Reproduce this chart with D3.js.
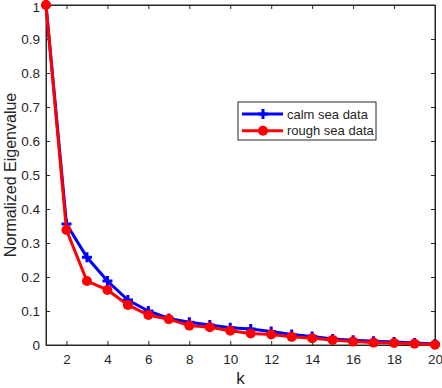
<!DOCTYPE html>
<html>
<head>
<meta charset="utf-8">
<script src="https://cdn.jsdelivr.net/npm/d3@7.9.0/dist/d3.min.js"></script>
<style>
  body { margin: 0; background: #fff; }
  svg text { font-family: "Liberation Sans", Arial, sans-serif; fill: #262626; }
</style>
</head>
<body>
<svg id="chart" width="442" height="388"></svg>
<script>
// data
const k = d3.range(1, 21);
const calmSea = [1, 0.356, 0.258, 0.188, 0.132, 0.1, 0.078, 0.067, 0.059, 0.051,
                 0.047, 0.04, 0.031, 0.025, 0.018, 0.014, 0.011, 0.009, 0.006, 0.003];
const roughSea = [1, 0.338, 0.188, 0.162, 0.118, 0.088, 0.076, 0.057, 0.052, 0.042,
                  0.034, 0.031, 0.024, 0.02, 0.015, 0.01, 0.007, 0.006, 0.004, 0.001];
const xTicks = [2, 4, 6, 8, 10, 12, 14, 16, 18, 20];
const yTicks = [0, 0.1, 0.2, 0.3, 0.4, 0.5, 0.6, 0.7, 0.8, 0.9, 1];

const svg = d3.select('#chart');
const m = { left: 46, right: 435, top: 5, bottom: 345 };

const x = d3.scaleLinear().domain([1, 20]).range([m.left, m.right]);
const y = d3.scaleLinear().domain([0, 1]).range([m.bottom, m.top]);

const axisColor = '#262626';

// box
svg.append('rect')
  .attr('x', m.left).attr('y', m.top)
  .attr('width', m.right - m.left).attr('height', m.bottom - m.top)
  .attr('fill', 'none').attr('stroke', axisColor).attr('stroke-width', 1);

// axes, ticks pointing inwards
svg.append('g').attr('transform', `translate(0,${m.bottom})`)
  .call(d3.axisBottom(x).tickValues(xTicks).tickSizeInner(-4).tickSizeOuter(0).tickPadding(9));
const yAxis = svg.append('g').attr('transform', `translate(${m.left},0)`)
  .call(d3.axisLeft(y).tickValues(yTicks).tickSizeInner(-4).tickSizeOuter(0).tickPadding(6)
    .tickFormat(d => d3.format('~g')(d)));
svg.append('g').attr('transform', `translate(0,${m.top})`)
  .call(d3.axisTop(x).tickValues(xTicks).tickSizeInner(-4).tickSizeOuter(0).tickFormat(''));
svg.append('g').attr('transform', `translate(${m.right},0)`)
  .call(d3.axisRight(y).tickValues(yTicks).tickSizeInner(-4).tickSizeOuter(0).tickFormat(''));

svg.selectAll('.domain').attr('stroke', axisColor);
svg.selectAll('.tick line').attr('stroke', axisColor);
svg.selectAll('.tick text').attr('font-size', 13.5).style('fill', axisColor);
// keep the top label inside the page
yAxis.selectAll('.tick text').filter(d => d === 1).attr('dy', '0.45em');

// axis labels
svg.append('text')
  .attr('x', (m.left + m.right) / 2).attr('y', 384)
  .attr('text-anchor', 'middle').attr('font-size', 17).text('k');
svg.append('text')
  .attr('transform', `translate(16,${(m.top + m.bottom) / 2}) rotate(-90)`)
  .attr('text-anchor', 'middle').attr('font-size', 16).text('Normalized Eigenvalue');

const line = d3.line().x((d, i) => x(k[i])).y(d => y(d));

// calm sea (blue, + markers)
svg.append('path').datum(calmSea)
  .attr('d', line).attr('fill', 'none')
  .attr('stroke', '#0000ff').attr('stroke-width', 3);
svg.append('g').selectAll('path').data(calmSea).join('path')
  .attr('d', (d, i) => `M${x(k[i]) - 5},${y(d)}h10M${x(k[i])},${y(d) - 5}v10`)
  .attr('stroke', '#0000ff').attr('stroke-width', 3);

// rough sea (red, dot markers)
svg.append('path').datum(roughSea)
  .attr('d', line).attr('fill', 'none')
  .attr('stroke', '#ff0000').attr('stroke-width', 3);
svg.append('g').selectAll('circle').data(roughSea).join('circle')
  .attr('cx', (d, i) => x(k[i])).attr('cy', d => y(d)).attr('r', 5)
  .attr('fill', '#ff0000');

// legend
const lg = svg.append('g').attr('transform', 'translate(238,102)');
lg.append('rect').attr('width', 138).attr('height', 38)
  .attr('fill', '#fff').attr('stroke', axisColor).attr('stroke-width', 1);
const series = [
  { name: 'calm sea data', color: '#0000ff', marker: 'plus' },
  { name: 'rough sea data', color: '#ff0000', marker: 'dot' }
];
series.forEach((s, i) => {
  const yy = 12 + i * 16.7;
  lg.append('line').attr('x1', 4).attr('x2', 45).attr('y1', yy).attr('y2', yy)
    .attr('stroke', s.color).attr('stroke-width', 3);
  if (s.marker === 'plus') {
    lg.append('path').attr('d', `M20,${yy}h10M25,${yy - 5}v10`)
      .attr('stroke', s.color).attr('stroke-width', 3);
  } else {
    lg.append('circle').attr('cx', 25).attr('cy', yy).attr('r', 5).attr('fill', s.color);
  }
  lg.append('text').attr('x', 49).attr('y', yy + 4.5)
    .attr('font-size', 13).text(s.name);
});
</script>
</body>
</html>
